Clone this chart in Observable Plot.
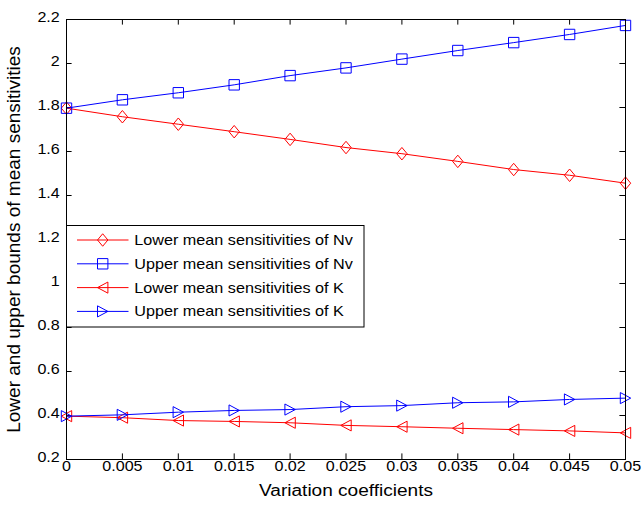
<!DOCTYPE html>
<html>
<head>
<meta charset="utf-8">
<script src="https://cdn.jsdelivr.net/npm/d3@7"></script>
<script src="https://cdn.jsdelivr.net/npm/@observablehq/plot@0.6"></script>
<style>
  html, body { margin: 0; padding: 0; background: #fff; }
  #chart { width: 643px; height: 507px; }
</style>
</head>
<body>
<div id="chart"></div>
<script>
// Variation coefficients (x) and the four sensitivity bounds
const coefficients = [0, 0.005, 0.01, 0.015, 0.02, 0.025, 0.03, 0.035, 0.04, 0.045, 0.05];
const lowerNv = [1.797, 1.758, 1.724, 1.690, 1.655, 1.618, 1.590, 1.555, 1.518, 1.492, 1.456];
const upperNv = [1.797, 1.835, 1.867, 1.903, 1.945, 1.980, 2.020, 2.059, 2.095, 2.132, 2.173];
const lowerK  = [0.397, 0.390, 0.377, 0.373, 0.367, 0.355, 0.349, 0.342, 0.336, 0.330, 0.321];
const upperK  = [0.397, 0.403, 0.415, 0.423, 0.427, 0.440, 0.445, 0.458, 0.462, 0.473, 0.479];

const seriesNames = [
  "Lower mean sensitivities of Nv",
  "Upper mean sensitivities of Nv",
  "Lower mean sensitivities of K",
  "Upper mean sensitivities of K"
];

const xTicks = [0, 0.005, 0.01, 0.015, 0.02, 0.025, 0.03, 0.035, 0.04, 0.045, 0.05];
const xTickLabels = ["0", "0.005", "0.01", "0.015", "0.02", "0.025", "0.03", "0.035", "0.04", "0.045", "0.05"];
const yTicks = [0.2, 0.4, 0.6, 0.8, 1, 1.2, 1.4, 1.6, 1.8, 2, 2.2];
const yTickLabels = ["0.2", "0.4", "0.6", "0.8", "1", "1.2", "1.4", "1.6", "1.8", "2", "2.2"];
const xLabel = "Variation coefficients";
const yLabel = "Lower and upper bounds of mean sensitivities";

// Open marker shapes, in units of the dot radius
const shape = pts => ({
  draw(ctx, size) {
    const r = Math.sqrt(size / Math.PI);
    ctx.moveTo(pts[0][0] * r, pts[0][1] * r);
    for (let i = 1; i < pts.length; ++i) ctx.lineTo(pts[i][0] * r, pts[i][1] * r);
    ctx.closePath();
  }
});
const diamond = shape([[0, -1.2], [1, 0], [0, 1.2], [-1, 0]]);
const square = shape([[-1, -1], [1, -1], [1, 1], [-1, 1]]);
const triangleLeft = shape([[-1, 0], [1, -1.07], [1, 1.07]]);
const triangleRight = shape([[1, 0], [-1, -1.07], [-1, 1.07]]);

const RED = "#ff0000", BLUE = "#0000ff";
const series = [
  {name: seriesNames[0], values: lowerNv, color: RED, symbol: diamond},
  {name: seriesNames[1], values: upperNv, color: BLUE, symbol: square},
  {name: seriesNames[2], values: lowerK, color: RED, symbol: triangleLeft},
  {name: seriesNames[3], values: upperK, color: BLUE, symbol: triangleRight}
];

const W = 643, H = 507;
const mL = 66, mR = 18, mT = 19, mB = 48;
const fw = W - mL - mR, fh = H - mT - mB;
const tickLen = 5.6;
const markerR = 5.2;
const FONT = "'Liberation Sans', Arial, Helvetica, sans-serif";

const seriesMarks = series.flatMap(s => [
  Plot.line(coefficients, {x: d => d, y: (d, i) => s.values[i], stroke: s.color, strokeWidth: 1}),
  Plot.dot(coefficients, {x: d => d, y: (d, i) => s.values[i], stroke: s.color, fill: "none",
    strokeWidth: 1, r: markerR, symbol: s.symbol})
]);

const svg = Plot.plot({
  width: W, height: H,
  marginLeft: mL, marginRight: mR, marginTop: mT, marginBottom: mB,
  style: {fontFamily: FONT, fontSize: "14px", background: "#fff", color: "#000", overflow: "visible"},
  x: {domain: [0, 0.05]},
  y: {domain: [0.2, 2.2]},
  marks: [
    // inward ticks on all four sides of the box
    Plot.tickX(xTicks, {x: d => d, insetTop: fh - tickLen, stroke: "#000"}),
    Plot.tickX(xTicks, {x: d => d, insetBottom: fh - tickLen, stroke: "#000"}),
    Plot.tickY(yTicks, {y: d => d, insetRight: fw - tickLen, stroke: "#000"}),
    Plot.tickY(yTicks, {y: d => d, insetLeft: fw - tickLen, stroke: "#000"}),
    Plot.axisX(xTicks, {tickSize: 0, tickPadding: 11.7, label: null,
      tickFormat: d => xTickLabels[xTicks.indexOf(d)], fontSize: 14}),
    Plot.axisY(yTicks, {tickSize: 0, tickPadding: 6.7, label: null, dy: 2,
      tickFormat: d => yTickLabels[yTicks.indexOf(d)], fontSize: 14}),
    ...seriesMarks,
    Plot.frame({stroke: "#000", strokeWidth: 1}),
    Plot.text([xLabel], {text: d => d, frameAnchor: "bottom", textAnchor: "middle", dy: 36.6,
      fontSize: 16, fill: "#000"}),
    Plot.text([yLabel], {text: d => d, frameAnchor: "left", textAnchor: "middle", rotate: -90,
      dx: -53, fontSize: 19, fill: "#000"})
  ]
});

// Widen horizontal text about its anchor point
function stretch(el, k) {
  let t = el.getAttribute("transform") || "";
  const x = el.getAttribute("x"), y = el.getAttribute("y");
  if (x != null || y != null) {
    t += ` translate(${+x || 0},${+y || 0})`;
    el.removeAttribute("x");
    el.removeAttribute("y");
  }
  el.setAttribute("transform", `${t} scale(${k},1)`);
}
svg.querySelectorAll('g[aria-label="x-axis tick label"] text, g[aria-label="y-axis tick label"] text')
  .forEach(el => stretch(el, 1.15));
svg.querySelectorAll("text").forEach(el => { if (el.textContent === xLabel) stretch(el, 1.19); });

// Legend box in the left middle of the plot
const lg = d3.select(svg).append("g").attr("font-family", FONT).attr("font-size", 14)
  .attr("text-anchor", "start");
const box = {x: 66.5, y: 225.5, w: 297.5, h: 101.5};
lg.append("rect").attr("x", box.x).attr("y", box.y).attr("width", box.w).attr("height", box.h)
  .attr("fill", "#fff").attr("stroke", "#000").attr("stroke-width", 1);
series.forEach((s, i) => {
  const cy = box.y + 14.5 + i * 23.8;
  lg.append("line").attr("x1", 77).attr("x2", 128.5).attr("y1", cy).attr("y2", cy)
    .attr("stroke", s.color).attr("stroke-width", 1);
  const p = d3.path();
  s.symbol.draw(p, Math.PI * markerR * markerR);
  lg.append("path").attr("d", p.toString()).attr("transform", `translate(102.7,${cy})`)
    .attr("fill", "none").attr("stroke", s.color).attr("stroke-width", 1);
  const t = lg.append("text").attr("x", 134.3).attr("y", cy).attr("dy", "0.36em")
    .attr("text-anchor", "start").attr("fill", "#000").text(s.name);
  stretch(t.node(), 1.157);
});

document.getElementById("chart").appendChild(svg);
</script>
</body>
</html>
